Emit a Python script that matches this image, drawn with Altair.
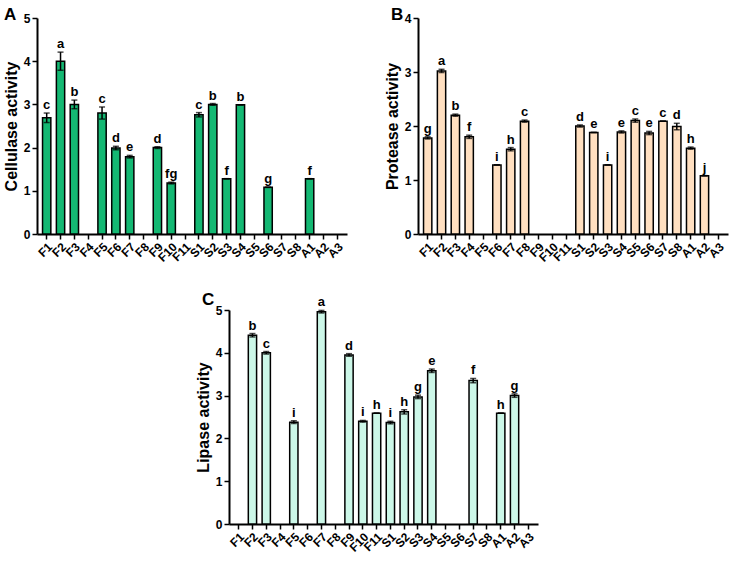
import altair as alt
import pandas as pd

categories = ["F1", "F2", "F3", "F4", "F5", "F6", "F7", "F8", "F9", "F10", "F11",
              "S1", "S2", "S3", "S4", "S5", "S6", "S7", "S8", "A1", "A2", "A3"]

# Panel A - Cellulase activity
cell_vals = [2.69, 4.0, 3.0, None, 2.8, 1.99, 1.79, None, 2.0, 1.18, None,
             2.76, 3.0, 1.28, 2.99, None, 1.08, None, None, 1.28, None, None]
cell_err = [0.11, 0.21, 0.1, None, 0.14, 0.04, 0.03, None, 0.02, 0.02, None,
            0.05, 0.02, 0.0, 0.0, None, 0.0, None, None, 0.0, None, None]
cell_sig = ["c", "a", "b", None, "c", "d", "e", None, "d", "fg", None,
            "c", "b", "f", "b", None, "g", None, None, "f", None, None]

# Panel B - Protease activity
prot_vals = [1.78, 3.02, 2.2, 1.8, None, 1.28, 1.57, 2.09, None, None, None,
             2.0, 1.88, 1.28, 1.89, 2.1, 1.87, 2.09, 1.99, 1.59, 1.08, None]
prot_err = [0.02, 0.03, 0.02, 0.03, None, 0.0, 0.03, 0.02, None, None, None,
            0.02, 0.0, 0.0, 0.02, 0.03, 0.03, 0.0, 0.06, 0.02, 0.0, None]
prot_sig = ["g", "a", "b", "f", None, "i", "h", "c", None, None, None,
            "d", "e", "i", "e", "c", "e", "c", "d", "h", "j", None]

# Panel C - Lipase activity
lip_vals = [None, 4.41, 4.0, None, 2.38, None, 4.96, None, 3.95, 2.4, 2.59,
            2.37, 2.62, 2.97, 3.58, None, None, 3.35, None, 2.59, 3.0, None]
lip_err = [None, 0.04, 0.03, None, 0.03, None, 0.03, None, 0.03, 0.02, 0.0,
           0.03, 0.05, 0.04, 0.04, None, None, 0.05, None, 0.0, 0.04, None]
lip_sig = [None, "b", "c", None, "i", None, "a", None, "d", "i", "h",
           "i", "h", "g", "e", None, None, "f", None, "h", "g", None]

FONT = "Liberation Sans"


def panel(vals, errs, sigs, ymax, title, color, letter, lx, ly, w, h):
    rows = []
    for c, v, e, s in zip(categories, vals, errs, sigs):
        if v is None:
            continue
        rows.append({"cat": c, "v": v, "lo": v - e, "hi": v + e, "sig": s})
    df = pd.DataFrame(rows)
    base = alt.Chart(df)
    xenc = alt.X("cat:N", sort=categories,
                 scale=alt.Scale(domain=categories, paddingInner=0.4, paddingOuter=0.4),
                 axis=alt.Axis(title=None, labelAngle=-45, labelFontSize=12))
    yscale = alt.Scale(domain=[0, ymax], nice=False)
    bars = base.mark_bar(color=color, stroke="black", strokeWidth=1.5).encode(
        x=xenc,
        y=alt.Y("v:Q", scale=yscale,
                axis=alt.Axis(title=title, values=list(range(ymax + 1)), format="d",
                              titleFontSize=16, titlePadding=4, labelFontSize=12)),
    )
    rule = base.mark_rule(color="black", strokeWidth=1.5).encode(
        x=alt.X("cat:N", sort=categories), y="lo:Q", y2="hi:Q")
    cap_hi = base.mark_tick(color="black", thickness=1.5, size=6).encode(
        x=alt.X("cat:N", sort=categories), y="hi:Q")
    cap_lo = base.mark_tick(color="black", thickness=1.5, size=6).encode(
        x=alt.X("cat:N", sort=categories), y="lo:Q")
    txt = base.mark_text(font=FONT, fontWeight="bold", fontSize=13,
                         baseline="alphabetic", dy=-4, color="black").encode(
        x=alt.X("cat:N", sort=categories), y="hi:Q", text="sig:N")
    lab = alt.Chart(pd.DataFrame({"t": [letter]})).mark_text(
        font=FONT, fontWeight="bold", fontSize=17, align="left",
        baseline="alphabetic", color="black").encode(
        text="t:N", x=alt.value(lx), y=alt.value(ly))
    return alt.layer(bars, rule, cap_hi, cap_lo, txt, lab).properties(width=w, height=h)


pa = panel(cell_vals, cell_err, cell_sig, 5, "Cellulase activity", "#14B873", "A", -33, 1.5, 310, 216)
pb = panel(prot_vals, prot_err, prot_sig, 4, "Protease activity", "#FFDFC0", "B", -27, 1.7, 310, 216)
pc = panel(lip_vals, lip_err, lip_sig, 5, "Lipase activity", "#CCF7E8", "C", -27, -5.3, 309, 214)

spacer = alt.Chart(pd.DataFrame({"a": [0]})).mark_point(opacity=0).encode(
    x=alt.value(0), y=alt.value(0)).properties(width=158, height=10)

top = alt.hconcat(pa, pb, spacing=37)
bottom = alt.hconcat(spacer, pc, spacing=0)

chart = alt.vconcat(top, bottom, spacing=26).properties(
    padding={"left": 3, "top": 5, "right": 3, "bottom": 3}
).configure_view(stroke=None).configure_axis(
    grid=False, domainColor="black", domainWidth=2, tickColor="black",
    tickWidth=1.5, tickSize=5, labelColor="black", titleColor="black",
    labelFont=FONT, titleFont=FONT, labelFontWeight="bold", titleFontWeight="bold",
    labelPadding=2,
)

chart.save("out.html", embed_options={"renderer": "svg", "actions": False})
